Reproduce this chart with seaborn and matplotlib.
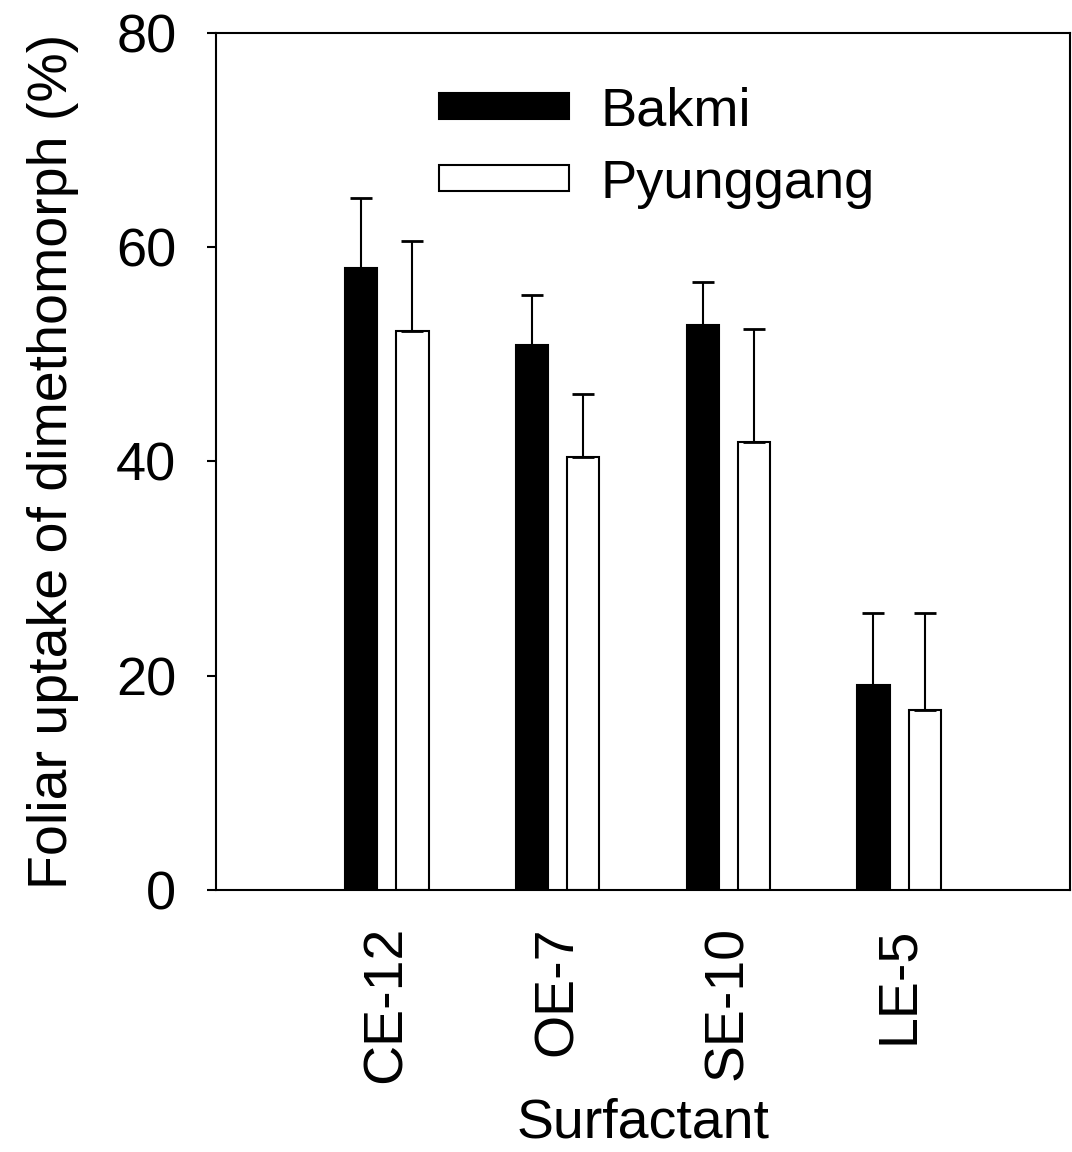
import pandas as pd
import numpy as np
import matplotlib
matplotlib.use('Agg')
import matplotlib.pyplot as plt
import seaborn as sns
from matplotlib.patches import Patch

# datos
surfactantes = ['CE-12', 'OE-7', 'SE-10', 'LE-5']
cultivares = ['Bakmi', 'Pyunggang']
bakmi = [58.1, 50.9, 52.7, 19.1]
pyunggang = [52.2, 40.4, 41.8, 16.8]
bakmi_err = [6.5, 4.6, 4.1, 6.8]
pyunggang_err = [8.4, 5.9, 10.6, 9.1]

df = pd.DataFrame({
    'Surfactant': surfactantes * 2,
    'Cultivar': ['Bakmi'] * 4 + ['Pyunggang'] * 4,
    'Uptake': bakmi + pyunggang,
    'Err': bakmi_err + pyunggang_err,
})

sns.set_style('ticks')
plt.rcParams['font.family'] = ['Liberation Sans', 'DejaVu Sans']
plt.rcParams['text.color'] = 'black'
plt.rcParams['axes.labelcolor'] = 'black'
plt.rcParams['xtick.color'] = 'black'
plt.rcParams['ytick.color'] = 'black'

fig = plt.figure(figsize=(10.72, 11.52), dpi=100)
ax = fig.add_axes([0.2015, 0.2274, 0.7965, 0.744])

sns.barplot(data=df, x='Surfactant', y='Uptake', hue='Cultivar', order=surfactantes,
            hue_order=cultivares, palette=['black', 'white'], width=0.6, gap=0.37,
            errorbar=None, edgecolor='black', linewidth=1.5, legend=False, ax=ax)

# barras de error solo hacia arriba
for cont, errs in zip(ax.containers, [bakmi_err, pyunggang_err]):
    xs = [p.get_x() + p.get_width() / 2 for p in cont.patches]
    ys = [p.get_height() for p in cont.patches]
    ax.errorbar(xs, ys, yerr=[np.zeros(len(errs)), errs], fmt='none', ecolor='black',
                elinewidth=1.5, capsize=8, capthick=2, zorder=1)

ax.set_xlim(-1, 4)
ax.set_ylim(0, 80)
ax.set_yticks([0, 20, 40, 60, 80])
ax.tick_params(axis='y', labelsize=39, direction='out', length=6.5, width=1.5, pad=22)
ax.tick_params(axis='x', labelsize=40, length=0, pad=26, labelrotation=90)
for s in ax.spines.values():
    s.set_linewidth(1.5)
    s.set_color('black')

ax.set_xlabel('Surfactant', fontsize=40, labelpad=10)
ax.set_ylabel('Foliar uptake of dimethomorph (%)', fontsize=40, labelpad=27)

handles = [Patch(facecolor='black', edgecolor='black', linewidth=1.5),
           Patch(facecolor='white', edgecolor='black', linewidth=1.5)]
fig.legend(handles, cultivares, loc='upper left', bbox_to_anchor=(439 / 1072, 1 - 86 / 1152),
           frameon=False, fontsize=39, handlelength=2.4, handleheight=0.36,
           handletextpad=0.58, labelspacing=0.42, borderpad=0, borderaxespad=0)

fig.savefig('out.png', dpi=100)
